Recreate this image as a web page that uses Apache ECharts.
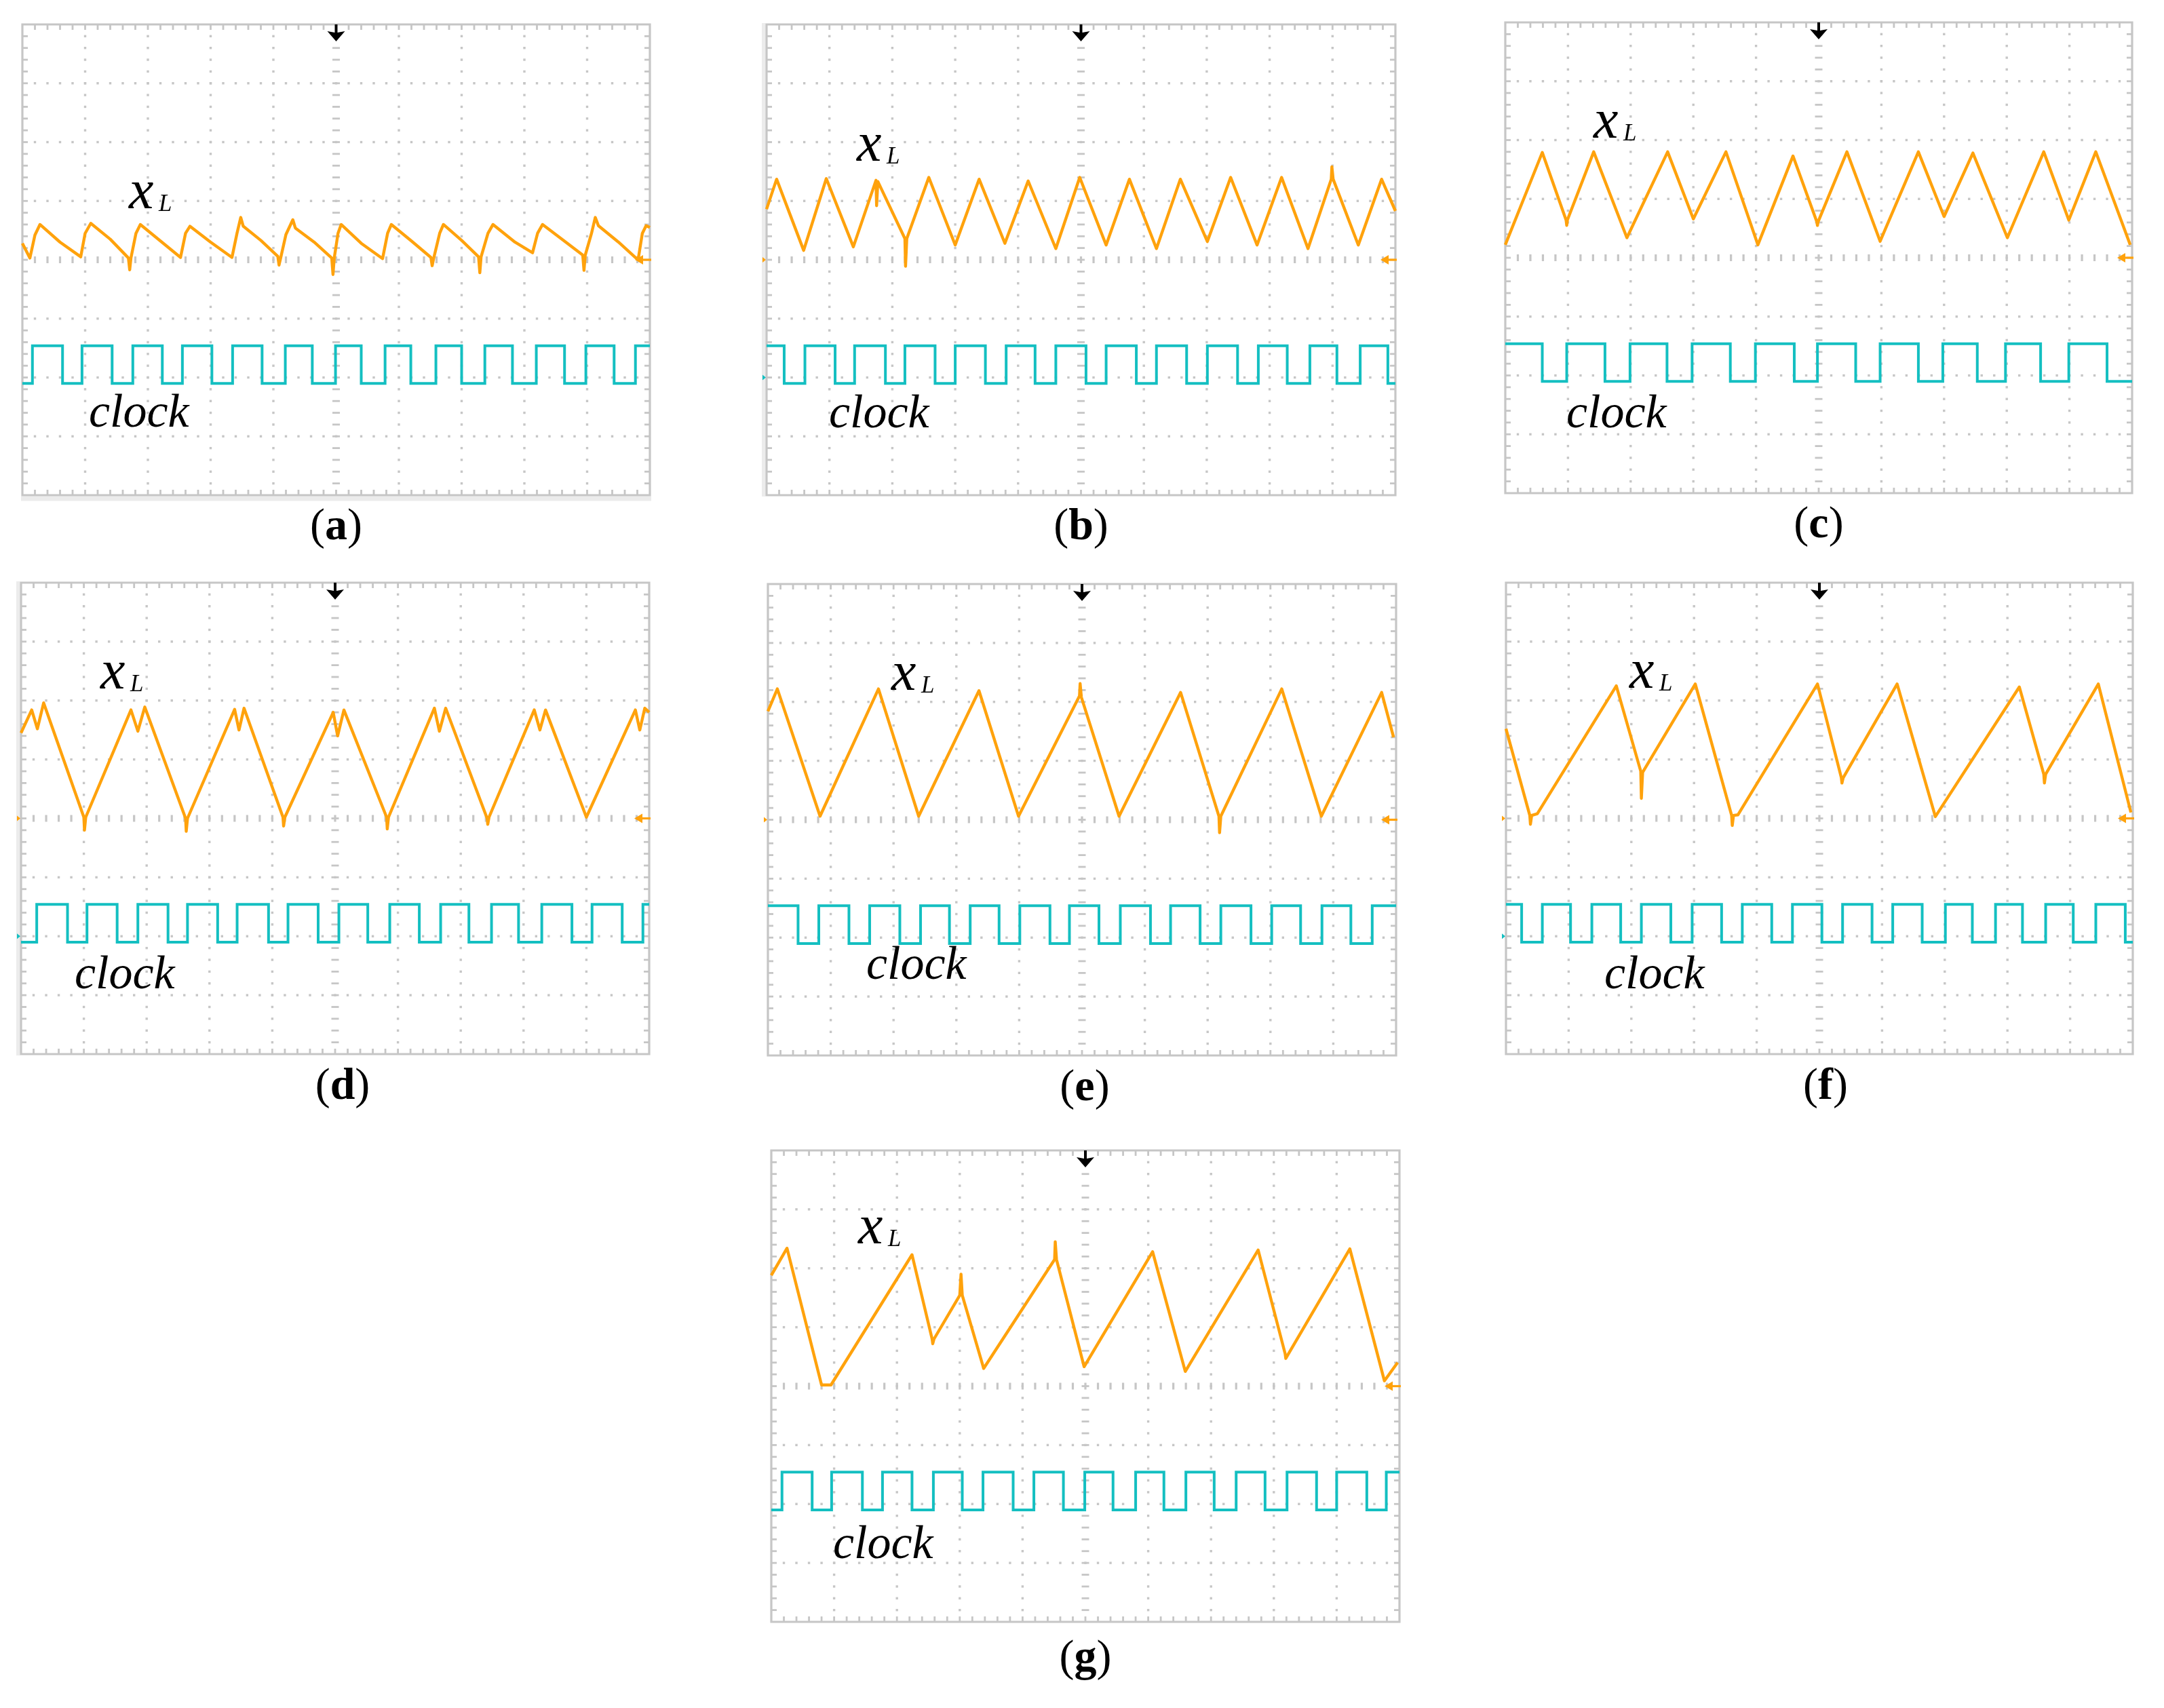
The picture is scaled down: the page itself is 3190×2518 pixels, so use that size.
<!DOCTYPE html>
<html><head><meta charset="utf-8">
<script src="https://cdn.jsdelivr.net/npm/echarts@6/dist/echarts.min.js"></script>
<style>html,body{margin:0;padding:0;background:#fff}#c{width:3190px;height:2518px}</style>
</head><body><div id="c"></div>
<script>
// ---------- axis ranges (divisions) ----------
const X_MIN = 0, X_MAX = 10, Y_MIN = -4, Y_MAX = 4;

// ---------- x_L traces: [time (div), level (div)] ----------
const xL_a = [[0.00,0.28],[0.12,0.03],[0.20,0.42],[0.28,0.60],[0.60,0.30],[0.93,0.05],
[1.00,0.45],[1.09,0.62],[1.40,0.35],[1.69,0.03],[1.71,-0.17],[1.73,0.03],
[1.81,0.45],[1.88,0.60],[2.20,0.32],[2.52,0.04],
[2.60,0.45],[2.67,0.57],[3.00,0.30],[3.34,0.04],
[3.42,0.45],[3.48,0.72],[3.52,0.57],[3.80,0.33],[4.07,0.06],[4.09,-0.09],[4.12,0.05],
[4.20,0.43],[4.31,0.68],[4.35,0.54],[4.65,0.30],[4.93,0.03],[4.95,-0.25],[4.97,0.03],
[5.03,0.45],[5.08,0.60],[5.40,0.28],[5.74,0.02],
[5.82,0.45],[5.88,0.60],[6.20,0.32],[6.51,0.04],[6.53,-0.10],[6.56,0.05],
[6.65,0.45],[6.71,0.60],[7.00,0.33],[7.27,0.05],[7.29,-0.22],[7.31,0.05],
[7.42,0.45],[7.50,0.60],[7.85,0.30],[8.13,0.12],
[8.21,0.45],[8.29,0.60],[8.60,0.35],[8.93,0.08],[8.95,-0.18],[8.97,0.08],
[9.07,0.45],[9.13,0.72],[9.18,0.58],[9.50,0.30],[9.79,0.02],[9.82,0.05],
[9.88,0.45],[9.94,0.58],[10.00,0.55]];
const xL_b = [[0.00,0.86],[0.16,1.37],[0.59,0.16],[0.95,1.38],[1.38,0.22],[1.74,1.35],[1.75,0.92],[1.77,1.33],
[2.20,0.36],[2.21,-0.11],[2.23,0.36],[2.58,1.40],[3.00,0.25],[3.38,1.37],[3.79,0.28],[4.16,1.34],[4.60,0.19],
[4.98,1.40],[5.40,0.25],[5.77,1.37],[6.20,0.19],[6.58,1.37],[7.01,0.31],[7.38,1.40],[7.80,0.25],[8.19,1.40],
[8.61,0.19],[8.98,1.37],[8.99,1.58],[9.01,1.37],[9.41,0.25],[9.78,1.37],[10.00,0.83]];
const xL_c = [[0.00,0.22],[0.59,1.79],[0.97,0.64],[0.98,0.55],[0.99,0.64],[1.41,1.80],[1.94,0.34],[2.59,1.80],
[3.00,0.66],[3.52,1.80],[4.03,0.22],[4.59,1.73],[4.97,0.61],[4.98,0.55],[4.99,0.61],[5.45,1.80],[5.98,0.28],
[6.59,1.80],[7.00,0.70],[7.46,1.78],[8.01,0.34],[8.59,1.80],[8.99,0.64],[9.42,1.80],[9.97,0.22]];
const xL_d = [[0.00,1.45],[0.17,1.84],[0.26,1.52],[0.36,1.96],[1.00,0.02],[1.01,-0.20],[1.03,0.02],
[1.75,1.84],[1.86,1.48],[1.97,1.89],[2.62,0.00],[2.63,-0.22],[2.65,0.00],[3.40,1.85],[3.47,1.50],[3.55,1.87],
[4.17,0.02],[4.18,-0.13],[4.20,0.02],[4.97,1.80],[5.04,1.40],[5.14,1.84],[5.82,0.02],[5.83,-0.18],[5.85,0.02],
[6.58,1.87],[6.66,1.48],[6.76,1.87],[7.42,0.00],[7.43,-0.10],[7.45,0.02],[8.17,1.84],[8.26,1.50],[8.35,1.84],
[9.00,0.02],[9.78,1.84],[9.85,1.50],[9.93,1.87],[10.00,1.80]];
const xL_e = [[0.00,1.84],[0.15,2.22],[0.83,0.06],[1.76,2.22],[2.40,0.06],[3.36,2.19],[3.99,0.06],
[4.96,2.10],[4.97,2.31],[4.99,2.08],[5.59,0.06],[6.57,2.16],[7.18,0.06],[7.19,-0.22],[7.21,0.06],
[8.18,2.22],[8.81,0.06],[9.77,2.16],[9.96,1.40]];
const xL_f = [[0.00,1.52],[0.38,0.05],[0.39,-0.10],[0.41,0.05],[0.50,0.08],[1.76,2.25],[2.15,0.80],[2.16,0.34],
[2.18,0.78],[3.02,2.28],[3.60,0.05],[3.61,-0.12],[3.63,0.05],[3.70,0.06],[4.97,2.28],[5.35,0.69],[5.36,0.60],
[5.38,0.69],[6.24,2.28],[6.85,0.03],[8.19,2.23],[8.58,0.75],[8.59,0.60],[8.61,0.75],[9.45,2.28],[9.97,0.10]];
const xL_g = [[0.00,1.88],[0.25,2.34],[0.80,0.02],[0.95,0.02],[2.24,2.23],[2.56,0.80],[2.57,0.72],[2.59,0.80],
[3.00,1.54],[3.02,1.90],[3.04,1.54],[3.37,0.34],[3.38,0.30],[4.51,2.15],[4.52,2.45],[4.54,2.15],[4.97,0.37],
[4.98,0.33],[6.07,2.28],[6.59,0.25],[7.75,2.31],[8.18,0.55],[8.19,0.47],[9.21,2.33],[9.76,0.09],[9.97,0.40]];

// ---------- clock: edge times (div) and starting level ----------
const clockHigh = -1.46, clockLow = -2.10;
const clockEdges_a = [0.16,0.64,0.95,1.43,1.76,2.23,2.55,3.02,3.35,3.82,4.19,4.62,4.99,5.40,5.78,6.19,6.59,7.00,7.37,7.81,8.19,8.64,8.98,9.43,9.77];
const clockEdges_b = [0.28,0.61,1.09,1.40,1.89,2.20,2.68,3.00,3.48,3.81,4.27,4.60,5.08,5.40,5.88,6.20,6.68,7.01,7.49,7.82,8.28,8.64,9.07,9.44,9.88];
const clockEdges_c = [0.59,0.98,1.59,1.99,2.58,2.98,3.59,3.99,4.61,4.98,5.59,5.98,6.59,6.98,7.53,7.98,8.54,8.99,9.60];
const clockEdges_d = [0.25,0.74,1.05,1.53,1.86,2.34,2.65,3.13,3.44,3.94,4.25,4.73,5.06,5.52,5.87,6.34,6.68,7.13,7.49,7.92,8.29,8.77,9.09,9.57,9.90];
const clockEdges_e = [0.48,0.81,1.29,1.62,2.10,2.43,2.89,3.22,3.68,4.01,4.49,4.80,5.27,5.61,6.09,6.41,6.88,7.21,7.69,8.02,8.48,8.82,9.28,9.62];
const clockEdges_f = [0.25,0.58,1.03,1.37,1.83,2.16,2.63,2.97,3.44,3.77,4.24,4.57,5.04,5.37,5.84,6.17,6.64,7.01,7.44,7.81,8.24,8.61,9.05,9.41,9.88];
const clockEdges_g = [0.17,0.65,0.96,1.45,1.77,2.24,2.58,3.04,3.37,3.85,4.18,4.65,4.99,5.44,5.80,6.25,6.60,7.05,7.40,7.86,8.21,8.68,9.00,9.48,9.79];
const clockStartHigh = {a:false, b:true, c:true, d:false, e:true, f:true, g:false};

// ---------- text ----------
const panelLetters = ['a','b','c','d','e','f','g'];
const traceName = 'x', traceSub = 'L', clockName = 'clock';

// ---------- styling / layout ----------
const ORANGE = '#ffa20c', CYAN = '#14bfc1', GRID = '#c6c6c6';
const SERIF = '"Liberation Serif","Times New Roman",serif';
const layout = {
  a:{left:33,  top:36,   w:925, h:694, ldx:0,  ldy:48, xl:[157,277], ck:[98,598],  lm:[],        band:'bottom'},
  b:{left:1130,top:36,   w:927, h:694, ldx:0,  ldy:48, xl:[133,207], ck:[92,599],  lm:['o','c'], band:'left'},
  c:{left:2219,top:33,   w:924, h:694, ldx:0,  ldy:48, xl:[130,176], ck:[90,602],  lm:[],        band:null},
  d:{left:31,  top:859,  w:926, h:695, ldx:11, ldy:49, xl:[117,162], ck:[79,603],  lm:['o','c'], band:'left'},
  e:{left:1132,top:861,  w:926, h:695, ldx:4,  ldy:49, xl:[182,162], ck:[145,587], lm:['o'],     band:null},
  f:{left:2220,top:859,  w:924, h:695, ldx:9,  ldy:49, xl:[182,161], ck:[145,603], lm:['o','c'], band:null},
  g:{left:1137,top:1696, w:926, h:695, ldx:0,  ldy:55, xl:[128,143], ck:[91,606],  lm:[],        band:null}
};
const traces = {a:xL_a,b:xL_b,c:xL_c,d:xL_d,e:xL_e,f:xL_f,g:xL_g};
const clocks = {a:clockEdges_a,b:clockEdges_b,c:clockEdges_c,d:clockEdges_d,e:clockEdges_e,f:clockEdges_f,g:clockEdges_g};

function clockPoints(edges, startHigh) {
  let hi = startHigh;
  const lv = () => hi ? clockHigh : clockLow;
  const pts = [[X_MIN, lv()]];
  edges.forEach(t => { pts.push([t, lv()]); hi = !hi; pts.push([t, lv()]); });
  pts.push([X_MAX, lv()]);
  return pts;
}

function graticule(params, api) {
  const ch = [];
  const c = (x, y) => api.coord([x, y]);
  const tl = c(X_MIN, Y_MAX), br = c(X_MAX, Y_MIN);
  const L = tl[0], T = tl[1], R = br[0], B = br[1];
  const rect = (x, y, w, h) => ch.push({type:'rect', shape:{x, y, width:w, height:h}, style:{fill:GRID}});
  for (let i = 1; i < 10; i++) { if (i === 5) continue;
    for (let k = 1; k < 40; k++) { const p = c(i, Y_MIN + k * 0.2); rect(p[0]-1.7, p[1]-1.7, 3.4, 3.4); } }
  for (let j = -3; j <= 3; j++) { if (j === 0) continue;
    for (let k = 1; k < 50; k++) { const p = c(k * 0.2, j); rect(p[0]-1.7, p[1]-1.7, 3.4, 3.4); } }
  for (let k = 1; k < 40; k++) { const p = c(5, Y_MIN + k * 0.2); rect(p[0]-5.5, p[1]-1.4, 11, 2.8); }
  for (let k = 1; k < 50; k++) { const p = c(k * 0.2, 0); rect(p[0]-1.6, p[1]-5, 3.2, 10); }
  for (let k = 1; k < 50; k++) { const p = c(k * 0.2, 0); rect(p[0]-1.4, T, 2.8, 8); rect(p[0]-1.4, B-8, 2.8, 8); }
  for (let k = 1; k < 40; k++) { const p = c(X_MIN, Y_MIN + k * 0.2); rect(L, p[1]-1.4, 8, 2.8); rect(R-8, p[1]-1.4, 8, 2.8); }
  ch.push({type:'rect', shape:{x:L, y:T, width:R-L, height:B-T}, style:{fill:null, stroke:GRID, lineWidth:3.2}});
  return {type:'group', children:ch};
}

function markerRenderer(cfg) {
  return function (params, api) {
    const ch = [];
    const top = api.coord([5, Y_MAX]);
    const cx = top[0], T = top[1];
    ch.push({type:'polygon', shape:{points:[[cx-2,T],[cx+2,T],[cx+2,T+12],[cx+13,T+10],[cx,T+25],[cx-13,T+10],[cx-2,T+12]]}, style:{fill:'#000'}});
    const r = api.coord([X_MAX, 0]);
    ch.push({type:'polygon', shape:{points:[[r[0]-22,r[1]],[r[0]-10,r[1]-7],[r[0]-10,r[1]+7]]}, style:{fill:ORANGE}});
    ch.push({type:'rect', shape:{x:r[0]-11, y:r[1]-1.6, width:13, height:3.2}, style:{fill:ORANGE}});
    cfg.lm.forEach(m => {
      const p = api.coord([X_MIN, m === 'o' ? 0 : -2]);
      const col = m === 'o' ? ORANGE : CYAN;
      ch.push({type:'polygon', shape:{points:[[p[0]-6,p[1]-4],[p[0]-1,p[1]],[p[0]-6,p[1]+4]]}, style:{fill:col}});
    });
    return {type:'group', children:ch};
  };
}

const grids = [], xAxes = [], yAxes = [], series = [], graphics = [];
panelLetters.forEach((k, i) => {
  const p = layout[k];
  grids.push({left:p.left, top:p.top, width:p.w, height:p.h, show:false, containLabel:false});
  xAxes.push({type:'value', gridIndex:i, min:X_MIN, max:X_MAX, interval:1, show:false});
  yAxes.push({type:'value', gridIndex:i, min:Y_MIN, max:Y_MAX, interval:1, show:false});
  series.push({type:'custom', xAxisIndex:i, yAxisIndex:i, data:[[0,0]], renderItem:graticule, z:1, silent:true, animation:false});
  series.push({type:'line', name:clockName, xAxisIndex:i, yAxisIndex:i, data:clockPoints(clocks[k], clockStartHigh[k]),
    symbol:'none', lineStyle:{color:CYAN, width:4, join:'miter'}, z:3, animation:false, silent:true});
  series.push({type:'line', name:traceName + traceSub, xAxisIndex:i, yAxisIndex:i, data:traces[k],
    symbol:'none', lineStyle:{color:ORANGE, width:4.4, join:'round'}, z:4, animation:false, silent:true});
  series.push({type:'custom', xAxisIndex:i, yAxisIndex:i, data:[[0,0]], renderItem:markerRenderer(p), z:5, silent:true, animation:false});

  // bands outside frame
  if (p.band === 'bottom') graphics.push({type:'rect', shape:{x:p.left-2, y:p.top+p.h+1.5, width:p.w+4, height:7}, style:{fill:'#ebebeb'}, z:0});
  if (p.band === 'left') graphics.push({type:'rect', shape:{x:p.left-7, y:p.top-2, width:5.5, height:p.h+4}, style:{fill:'#ececec'}, z:0});

  // annotations
  const fsX = 82, fsL = 35, fsC = 70, fsP = 66;
  const bx = p.left + p.xl[0], by = p.top + p.xl[1];
  graphics.push({type:'text', x:bx, y:by - 0.3375*fsX, style:{text:traceName, font:'italic ' + fsX + 'px ' + SERIF, fill:'#000', align:'left', verticalAlign:'middle', textAlign:'left', textVerticalAlign:'middle'}, z:10});
  graphics.push({type:'text', x:bx + 44, y:by + 1 - 0.3375*fsL, style:{text:traceSub, font:'italic ' + fsL + 'px ' + SERIF, fill:'#000', align:'left', verticalAlign:'middle', textAlign:'left', textVerticalAlign:'middle'}, z:10});
  const cx0 = p.left + p.ck[0], cy0 = p.top + p.ck[1];
  graphics.push({type:'text', x:cx0, y:cy0 - 0.3375*fsC, style:{text:clockName, font:'italic ' + fsC + 'px ' + SERIF, fill:'#000', align:'left', verticalAlign:'middle', textAlign:'left', textVerticalAlign:'middle'}, z:10});
  graphics.push({type:'text', x:p.left + p.w/2 + p.ldx, y:p.top + p.h + p.ldy,
    style:{text:'{p|(}{b|' + k + '}{p|)}', rich:{p:{font:fsP + 'px ' + SERIF, fill:'#000'}, b:{font:'bold ' + fsP + 'px ' + SERIF, fill:'#000'}},
      align:'center', verticalAlign:'middle', textAlign:'center', textVerticalAlign:'middle'}, z:10});
});

const chart = echarts.init(document.getElementById('c'), null, {renderer:'canvas'});
chart.setOption({
  backgroundColor:'#ffffff',
  animation:false,
  grid:grids, xAxis:xAxes, yAxis:yAxes, series:series,
  graphic:{elements:graphics}
});
</script></body></html>
